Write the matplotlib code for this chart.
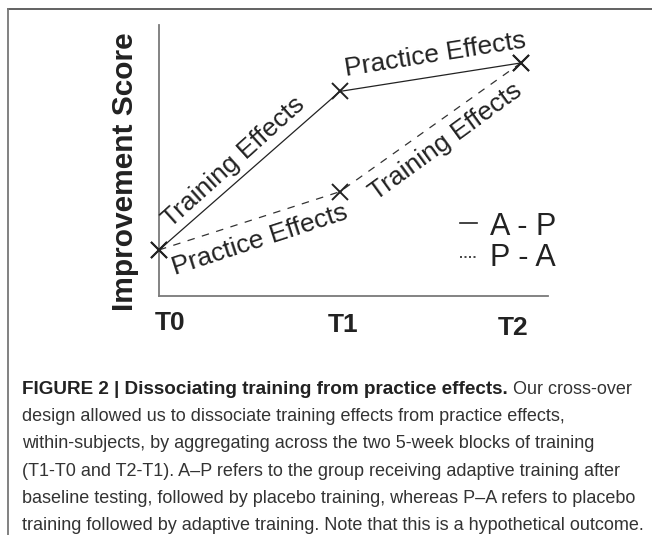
import matplotlib
matplotlib.use("Agg")
import matplotlib.pyplot as plt
from matplotlib.lines import Line2D

# ---- data ----
timepoints = ["T0", "T1", "T2"]
x_vals = [0, 1, 2]
ap_scores = [1.7, 7.55, 8.6]   # A - P group (solid)
pa_scores = [1.7, 3.85, 8.6]   # P - A group (dashed)
series_labels = ["A - P", "P - A"]
ylabel = "Improvement Score"
caption_bold = "FIGURE 2 | Dissociating training from practice effects."
caption_lines = [
    " Our cross-over",
    "design allowed us to dissociate training effects from practice effects,",
    "within-subjects, by aggregating across the two 5-week blocks of training",
    "(T1-T0 and T2-T1). A\u2013P refers to the group receiving adaptive training after",
    "baseline testing, followed by placebo training, whereas P\u2013A refers to placebo",
    "training followed by adaptive training. Note that this is a hypothetical outcome.",
]

W, H = 652, 535
fig = plt.figure(figsize=(W / 100, H / 100), dpi=100)
fig.patch.set_facecolor("white")

main_font = "Liberation Sans"
cap_font = "Liberation Sans"

def px2fx(px):
    return px / W

def py2fy(py):
    return 1 - py / H

# axes
ax_l, ax_r, ax_t, ax_b = 159, 548, 25, 296
ax = fig.add_axes([px2fx(ax_l), py2fy(ax_b), (ax_r - ax_l) / W, (ax_b - ax_t) / H])
ax.set_xlim(0, 2.15)
ax.set_ylim(0, 10)
for s in ["top", "right"]:
    ax.spines[s].set_visible(False)
for s in ["left", "bottom"]:
    ax.spines[s].set_color("#7a7a7a")
    ax.spines[s].set_linewidth(1.3)
ax.set_xticks([])
ax.set_yticks([])

ax.plot(x_vals, ap_scores, color="#222222", lw=0.9, ls="-", marker="x",
        markersize=12, markeredgewidth=1.4, markeredgecolor="#222222", clip_on=False, zorder=3)
ax.plot(x_vals, pa_scores, color="#333333", lw=0.9, ls=(0, (6, 6)), marker="x",
        markersize=12, markeredgewidth=1.4, markeredgecolor="#222222", clip_on=False, zorder=3)

txt_kw = dict(fontsize=19, family=main_font, color="#222222", ha="center", va="center",
              rotation_mode="anchor", clip_on=False)
ax.text(0.414, 4.94, "Training Effects", rotation=42, **txt_kw)
ax.text(1.53, 8.89, "Practice Effects", rotation=9, **txt_kw)
ax.text(1.586, 5.68, "Training Effects", rotation=36, **txt_kw)
ax.text(0.558, 2.07, "Practice Effects", rotation=18, **txt_kw)

# tick labels
tick_pos = [(170, 323), (343, 325), (513, 328)]
for lab, (px, py) in zip(timepoints, tick_pos):
    fig.text(px2fx(px), py2fy(py), lab, fontsize=19, fontweight="bold", family=main_font,
             color="#222222", ha="center", va="center")

# y label
fig.text(px2fx(125), py2fy(172), ylabel, fontsize=21.5, fontweight="bold", family=main_font,
         color="#222222", ha="center", va="center", rotation=90)

# legend (manual)
ax.plot([1.663, 1.757], [2.69, 2.69], color="#222222", lw=1.2, clip_on=False)
ax.plot([1.663, 1.757], [1.44, 1.44], color="#222222", lw=1.2, ls=(0, (1.2, 1.5)), clip_on=False)
ax.text(1.829, 2.55, series_labels[0], fontsize=22, family=main_font, color="#222222",
        ha="left", va="center", clip_on=False)
ax.text(1.829, 1.40, series_labels[1], fontsize=22, family=main_font, color="#222222",
        ha="left", va="center", clip_on=False)

# border lines
fig.add_artist(Line2D([px2fx(8), 1.0], [py2fy(9), py2fy(9)], color="#555555", lw=1.3))
fig.add_artist(Line2D([px2fx(8), px2fx(8)], [py2fy(9), 0.0], color="#777777", lw=1.3))

# caption
bold_size = 13.6
cap_size = 12.95
base0 = 394
step = 27.2
t0 = fig.text(px2fx(22), py2fy(base0), caption_bold, fontsize=bold_size, fontweight="bold",
              family=cap_font, color="#222222", ha="left", va="baseline")
fig.canvas.draw()
r = fig.canvas.get_renderer()
bb = t0.get_window_extent(renderer=r)
fig.text(bb.x1 / W, py2fy(base0), caption_lines[0], fontsize=cap_size, family=cap_font,
         color="#333333", ha="left", va="baseline")
for i, line in enumerate(caption_lines[1:], start=1):
    fig.text(px2fx(22), py2fy(base0 + i * step), line, fontsize=cap_size, family=cap_font,
             color="#333333", ha="left", va="baseline")

fig.savefig("out.png", dpi=100, facecolor="white")
